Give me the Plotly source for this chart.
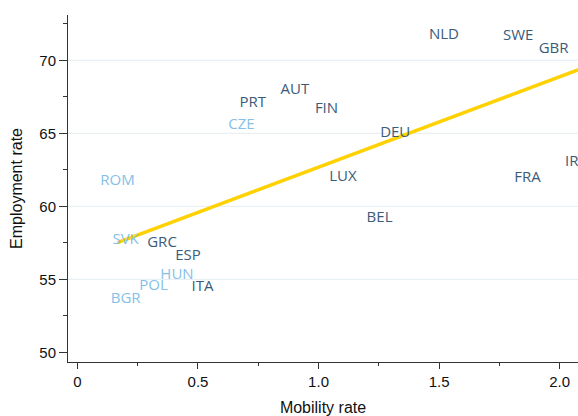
import plotly.graph_objects as go

# Country labels and their (mobility, employment) values
dark_codes = ["NLD", "SWE", "GBR", "AUT", "PRT", "FIN", "DEU", "LUX", "FRA", "IRL", "BEL", "GRC", "ESP", "ITA"]
dark_mobility = [1.520, 1.828, 1.975, 0.902, 0.727, 1.033, 1.318, 1.101, 1.867, 2.066, 1.253, 0.351, 0.459, 0.519]
dark_employment = [71.68, 71.62, 70.75, 67.92, 67.08, 66.68, 64.97, 61.96, 61.92, 63.0, 59.18, 57.44, 56.55, 54.49]

light_codes = ["CZE", "ROM", "SVK", "HUN", "POL", "BGR"]
light_mobility = [0.680, 0.166, 0.200, 0.413, 0.316, 0.200]
light_employment = [65.55, 61.73, 57.69, 55.29, 54.56, 53.65]

# Fitted line end points
fit_x = [0.166, 2.085]
fit_y = [57.51, 69.39]

x_ticks = [0, 0.5, 1.0, 1.5, 2.0]
x_tick_text = ["0", "0.5", "1.0", "1.5", "2.0"]
x_minor = [0.25, 0.75, 1.25, 1.75]
y_ticks = [50, 55, 60, 65, 70]
y_minor = [52.5, 57.5, 62.5, 67.5, 72.5]
grid_levels = [55, 60, 65, 70]

DARK = "#3b5b79"
LIGHT = "#86bfe8"
YELLOW = "#ffd100"
AXIS = "#333333"

fig = go.Figure()
fig.add_trace(go.Scatter(x=fit_x, y=fit_y, mode="lines",
                         line=dict(color=YELLOW, width=3.5), hoverinfo="skip"))
fig.add_trace(go.Scatter(x=dark_mobility, y=dark_employment, mode="text", text=dark_codes,
                         textposition="middle center",
                         textfont=dict(family="Open Sans", size=15, color=DARK), cliponaxis=False))
fig.add_trace(go.Scatter(x=light_mobility, y=light_employment, mode="text", text=light_codes,
                         textposition="middle center",
                         textfont=dict(family="Open Sans", size=15, color=LIGHT), cliponaxis=False))

for g in grid_levels:
    fig.add_shape(type="line", xref="paper", x0=0, x1=1, yref="y", y0=g, y1=g,
                  line=dict(color="#e4edf1", width=1), layer="below")

fig.update_layout(
    width=578, height=416,
    margin=dict(l=68, r=0, t=15, b=54, autoexpand=False),
    paper_bgcolor="white", plot_bgcolor="white",
    showlegend=False,
    font=dict(family="Liberation Sans, Arial", size=15, color="#111111"),
)
fig.update_xaxes(
    range=[-0.039, 2.076], showgrid=False, zeroline=False, automargin=False,
    showline=True, linecolor=AXIS, linewidth=1,
    tickmode="array", tickvals=x_ticks, ticktext=x_tick_text,
    ticks="outside", ticklen=6, tickcolor=AXIS, tickwidth=1,
    tickfont=dict(size=15),
    minor=dict(tickmode="array", tickvals=x_minor, ticks="outside", ticklen=3, tickcolor=AXIS, showgrid=False),
    title=dict(text="Mobility rate", font=dict(size=16), standoff=14),
)
fig.update_yaxes(
    range=[49.34, 73.1], showgrid=False, zeroline=False, automargin=False,
    showline=True, linecolor=AXIS, linewidth=1,
    tickmode="array", tickvals=y_ticks,
    ticks="outside", ticklen=8, tickcolor=AXIS, tickwidth=1,
    tickfont=dict(size=15),
    minor=dict(tickmode="array", tickvals=y_minor, ticks="outside", ticklen=4, tickcolor=AXIS, showgrid=False),
    title=dict(text="Employment rate", font=dict(size=16), standoff=12),
)

fig.write_html(
    "out.html",
    config={"displayModeBar": False},
    post_script="document.body.style.margin='0';document.body.style.overflow='hidden';",
)
